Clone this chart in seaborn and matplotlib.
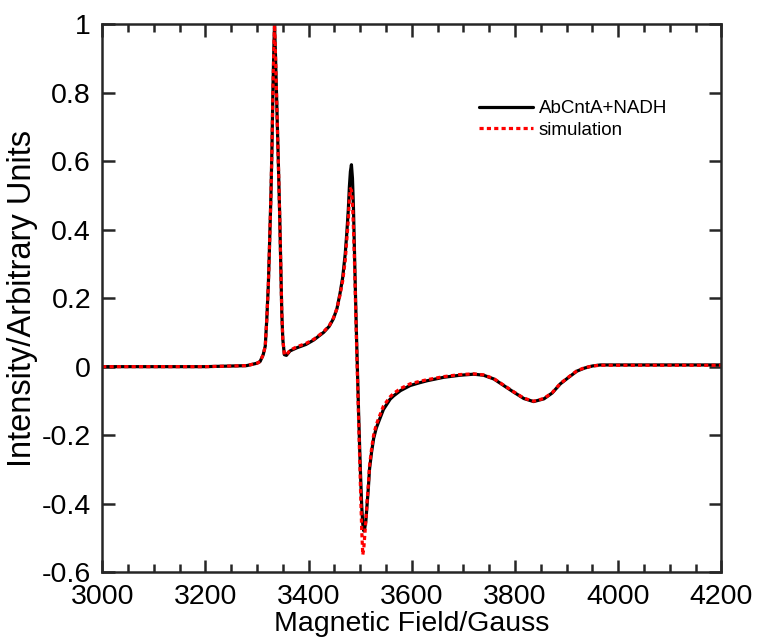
import numpy as np
import pandas as pd
import matplotlib
matplotlib.use("Agg")
import matplotlib.pyplot as plt
import seaborn as sns
from matplotlib.ticker import MultipleLocator

# ---- data ----
field_exp = [3000, 3100, 3200, 3280, 3300, 3306, 3312, 3316, 3319, 3322, 3324, 3327, 3329,
             3331, 3333, 3334, 3336, 3339, 3342, 3344, 3346, 3348, 3350, 3353, 3357, 3364,
             3377, 3395, 3410, 3429, 3440, 3448, 3455, 3461, 3466, 3471, 3474, 3477, 3479,
             3481, 3483, 3485, 3487, 3489, 3491, 3493, 3495, 3497, 3499, 3501, 3503, 3505,
             3507, 3509, 3511, 3513, 3516, 3518, 3522, 3526, 3531, 3536, 3545, 3558, 3565,
             3578, 3597, 3615, 3630, 3662, 3694, 3720, 3739, 3759, 3778, 3797, 3817, 3836,
             3856, 3872, 3888, 3905, 3920, 3935, 3950, 3965, 4000, 4100, 4200]
intensity_exp = [0.0, 0.0, 0.0, 0.003, 0.01, 0.015, 0.035, 0.06, 0.14, 0.24, 0.34, 0.5, 0.64,
                 0.82, 0.95, 1.0, 0.9, 0.73, 0.56, 0.44, 0.3, 0.16, 0.08, 0.035, 0.033, 0.046,
                 0.055, 0.065, 0.078, 0.1, 0.118, 0.14, 0.17, 0.215, 0.26, 0.33, 0.39, 0.46, 0.525,
                 0.57, 0.59, 0.55, 0.46, 0.33, 0.2, 0.08, -0.03, -0.14, -0.24, -0.33, -0.41, -0.46,
                 -0.48, -0.47, -0.45, -0.41, -0.35, -0.30, -0.25, -0.21, -0.18, -0.16, -0.125, -0.095, -0.085,
                 -0.07, -0.055, -0.047, -0.041, -0.031, -0.025, -0.022, -0.025, -0.036, -0.055, -0.074, -0.093, -0.102,
                 -0.094, -0.077, -0.05, -0.03, -0.013, -0.004, 0.002, 0.005, 0.005, 0.005, 0.005]

field_sim = [3000, 3100, 3200, 3280, 3300, 3306, 3312, 3316, 3319, 3322, 3324, 3327, 3329,
             3331, 3333, 3334, 3336, 3339, 3342, 3344, 3346, 3348, 3350, 3353, 3357, 3364,
             3377, 3395, 3410, 3429, 3440, 3448, 3455, 3461, 3466, 3471, 3474, 3477, 3479,
             3481, 3483, 3485, 3487, 3489, 3491, 3493, 3495, 3497, 3499, 3501, 3503, 3505,
             3507, 3509, 3511, 3513, 3516, 3518, 3522, 3526, 3531, 3536, 3545, 3558, 3565,
             3578, 3597, 3615, 3630, 3662, 3694, 3720, 3739, 3759, 3778, 3797, 3817, 3836,
             3856, 3872, 3888, 3905, 3920, 3935, 3950, 3965, 4000, 4100, 4200]
intensity_sim = [0.0, 0.0, 0.0, 0.003, 0.01, 0.015, 0.035, 0.06, 0.14, 0.24, 0.34, 0.5, 0.64,
                 0.82, 0.95, 1.0, 0.9, 0.73, 0.56, 0.44, 0.3, 0.16, 0.08, 0.035, 0.035, 0.048,
                 0.058, 0.068, 0.08, 0.102, 0.12, 0.142, 0.17, 0.21, 0.25, 0.31, 0.37, 0.43, 0.49,
                 0.52, 0.515, 0.48, 0.4, 0.3, 0.18, 0.06, -0.05, -0.16, -0.27, -0.38, -0.48, -0.55,
                 -0.53, -0.49, -0.45, -0.40, -0.34, -0.29, -0.24, -0.2, -0.17, -0.15, -0.115, -0.088, -0.078,
                 -0.064, -0.05, -0.043, -0.038, -0.029, -0.023, -0.021, -0.024, -0.035, -0.054, -0.073, -0.092, -0.101,
                 -0.093, -0.076, -0.049, -0.029, -0.012, -0.003, 0.002, 0.004, 0.004, 0.004, 0.004]

x_ticks = [3000, 3200, 3400, 3600, 3800, 4000, 4200]
y_ticks = [-0.6, -0.4, -0.2, 0, 0.2, 0.4, 0.6, 0.8, 1]
y_tick_labels = ["-0.6", "-0.4", "-0.2", "0", "0.2", "0.4", "0.6", "0.8", "1"]
series_names = ["AbCntA+NADH", "simulation"]

# ---- styling ----
sns.set_style("white")
plt.rcParams["font.family"] = ["Liberation Sans", "DejaVu Sans"]
plt.rcParams["text.color"] = "black"
plt.rcParams["axes.labelcolor"] = "black"

fig = plt.figure(figsize=(7.57, 6.42), dpi=100)
ax = fig.add_axes([0.135, 0.109, 0.818, 0.853])

df_exp = pd.DataFrame({"field": field_exp, "intensity": intensity_exp})
df_sim = pd.DataFrame({"field": field_sim, "intensity": intensity_sim})

sns.lineplot(data=df_exp, x="field", y="intensity", ax=ax, color="black",
             linewidth=2.3, estimator=None, sort=False, label=series_names[0])
sns.lineplot(data=df_sim, x="field", y="intensity", ax=ax, color="#ff0000",
             linewidth=2.3, estimator=None, sort=False, label=series_names[1],
             linestyle=(0, (1.3, 1.0)))

ax.set_xlim(3000, 4200)
ax.set_ylim(-0.6, 1.0)
ax.set_xticks(x_ticks)
ax.set_xticklabels([str(t) for t in x_ticks], fontsize=20.5, color="black")
ax.set_yticks(y_ticks)
ax.set_yticklabels(y_tick_labels, fontsize=20.5, color="black")
ax.xaxis.set_minor_locator(MultipleLocator(50))

ax.set_xlabel("Magnetic Field/Gauss", fontsize=20.5, labelpad=1, color="black")
ax.set_ylabel("Intensity/Arbitrary Units", fontsize=23.5, labelpad=3, color="black")

for s in ax.spines.values():
    s.set_visible(True)
    s.set_linewidth(1.8)
    s.set_color("#262626")

ax.tick_params(which="major", direction="in", length=9, width=1.8, color="#262626",
               top=True, right=True, bottom=True, left=True)
ax.tick_params(axis="x", which="major", pad=8.5)
ax.tick_params(axis="y", which="major", pad=8)
ax.tick_params(which="minor", axis="x", direction="in", length=5.5, width=1.8,
               color="#262626", top=True, bottom=True)

leg = ax.legend(loc="upper left", bbox_to_anchor=(0.608, 0.862), frameon=False,
                fontsize=13.5, handlelength=2.9, handletextpad=0.3,
                labelspacing=0.25, borderpad=0, borderaxespad=0)
for t in leg.get_texts():
    t.set_color("black")

fig.savefig("out.png", dpi=100)
